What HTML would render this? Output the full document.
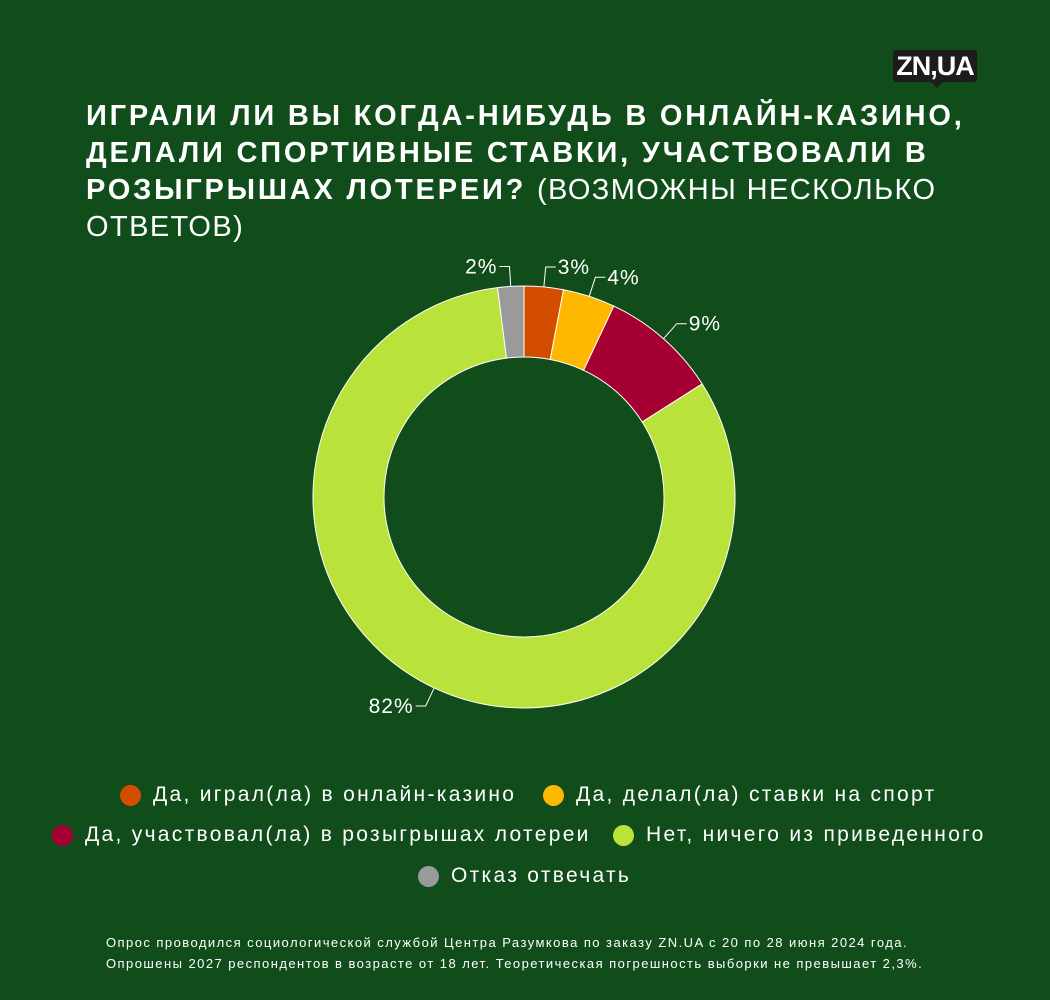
<!DOCTYPE html>
<html><head><meta charset="utf-8"><style>
html,body{margin:0;padding:0}
body{width:1050px;height:1000px;background:#114d1b;position:relative;overflow:hidden;font-family:"Liberation Sans","DejaVu Sans",sans-serif;color:#fff}
#title{position:absolute;left:86px;top:98px;width:960px;font-size:29px;line-height:37px;font-weight:bold;letter-spacing:2.8px;white-space:nowrap}
#title span{font-weight:normal;letter-spacing:1.4px}
#logo{position:absolute;left:893px;top:50px;width:84px;height:32px;background:#1c1c1a;border-radius:3px;font-weight:bold;font-size:27px;line-height:32px;text-align:center;letter-spacing:-1px}
#logo:after{content:"";position:absolute;left:38px;bottom:-6px;border:6px solid transparent;border-top-color:#1c1c1a;border-bottom:0}
.leg{position:absolute;font-size:21px;display:flex;align-items:center;white-space:nowrap;letter-spacing:2.3px}
.dot{width:21px;height:21px;border-radius:50%;margin-right:12px;display:inline-block}
#foot{position:absolute;left:106px;top:932px;font-size:13px;line-height:21px;letter-spacing:1.45px;white-space:nowrap}
</style></head><body>
<div id="logo">ZN,UA</div>
<div id="title">ИГРАЛИ ЛИ ВЫ КОГДА-НИБУДЬ В ОНЛАЙН-КАЗИНО,<br>ДЕЛАЛИ СПОРТИВНЫЕ СТАВКИ, УЧАСТВОВАЛИ В<br>РОЗЫГРЫШАХ ЛОТЕРЕИ? <span>(ВОЗМОЖНЫ НЕСКОЛЬКО<br>ОТВЕТОВ)</span></div>
<svg id="chart" width="1050" height="1000" style="position:absolute;left:0;top:0"></svg>
<div class="leg" style="left:120px;top:783px"><span class="dot" style="background:#d34d00"></span>Да, играл(ла) в онлайн-казино</div>
<div class="leg" style="left:543px;top:783px"><span class="dot" style="background:#ffb800"></span>Да, делал(ла) ставки на спорт</div>
<div class="leg" style="left:52px;top:823px"><span class="dot" style="background:#a60033"></span>Да, участвовал(ла) в розыгрышах лотереи</div>
<div class="leg" style="left:613px;top:823px"><span class="dot" style="background:#b9e33a"></span>Нет, ничего из приведенного</div>
<div class="leg" style="left:418px;top:864px"><span class="dot" style="background:#9a9a9a"></span>Отказ отвечать</div>
<div id="foot">Опрос проводился социологической службой Центра Разумкова по заказу ZN.UA с 20 по 28 июня 2024 года.<br>Опрошены 2027 респондентов в возрасте от 18 лет. Теоретическая погрешность выборки не превышает 2,3%.</div>
<script>
const categories=["Да, играл(ла) в онлайн-казино","Да, делал(ла) ставки на спорт","Да, участвовал(ла) в розыгрышах лотереи","Нет, ничего из приведенного","Отказ отвечать"];
const values=[3,4,9,82,2];
const labels=["3%","4%","9%","82%","2%"];
const colors=["#d34d00","#ffb800","#a60033","#b9e33a","#9a9a9a"];
const svg=document.getElementById('chart');const NS="http://www.w3.org/2000/svg";
const cx=524,cy=497,R=211,r=140;
const total=values.reduce((a,b)=>a+b,0);
function pt(a,rad){return[cx+rad*Math.sin(a),cy-rad*Math.cos(a)];}
let acc=0;
values.forEach((v,i)=>{
 const a0=acc/total*2*Math.PI;acc+=v;const a1=acc/total*2*Math.PI;
 const lg=(a1-a0)>Math.PI?1:0;
 const p1=pt(a0,R),p2=pt(a1,R),p3=pt(a1,r),p4=pt(a0,r);
 const p=document.createElementNS(NS,'path');
 p.setAttribute('d',`M${p1}A${R},${R} 0 ${lg} 1 ${p2}L${p3}A${r},${r} 0 ${lg} 0 ${p4}Z`);
 p.setAttribute('fill',colors[i]);p.setAttribute('stroke','#fff');p.setAttribute('stroke-width','1');
 
 
 svg.appendChild(p);
 const am=(a0+a1)/2;
 const s=pt(am,R),e=pt(am,R+20);
 const left=Math.sin(am)<0;
 const ex=e[0]+(left?-10:10);
 const l=document.createElementNS(NS,'polyline');
 l.setAttribute('points',`${s} ${e} ${ex},${e[1]}`);
 l.setAttribute('fill','none');l.setAttribute('stroke','#fff');l.setAttribute('stroke-width','1');
 
 
 svg.appendChild(l);
 const t=document.createElementNS(NS,'text');
 t.setAttribute('x',ex+(left?-2:2));t.setAttribute('y',e[1]+7);
 t.setAttribute('text-anchor',left?'end':'start');
 t.setAttribute('fill','#fff');t.setAttribute('font-size','21');
 t.setAttribute('letter-spacing','1');
 t.setAttribute('font-family','Liberation Sans, sans-serif');
 t.textContent=labels[i];
 
 
 svg.appendChild(t);
});
</script>
</body></html>
